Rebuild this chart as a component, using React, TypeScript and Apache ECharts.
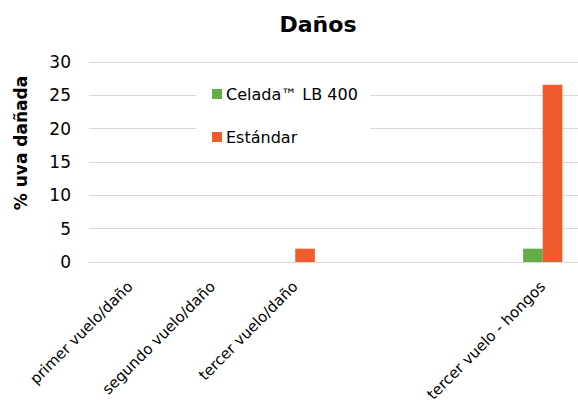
import React, { useEffect, useRef } from "react";
import * as echarts from "echarts";

const categories = [
  "primer vuelo/daño",
  "segundo vuelo/daño",
  "tercer vuelo/daño",
  "",
  "",
  "tercer vuelo - hongos",
];
const celada = [0, 0, 0, null, null, 2];
const estandar = [0, 0, 2, null, null, 26.6];
const seriesNames = ["Celada™ LB 400", "Estándar"];
const yTicks = { min: 0, max: 30, interval: 5 };

const FONT = "Tahoma, 'DejaVu Sans', sans-serif";

export default function App() {
  const ref = useRef<HTMLDivElement>(null);
  useEffect(() => {
    document.body.style.margin = "0";
    const chart = echarts.init(ref.current!, null, { renderer: "svg" });
    chart.setOption({
      animation: false,
      backgroundColor: "#ffffff",
      textStyle: { fontFamily: FONT },
      title: {
        text: "Daños",
        left: 313,
        top: 8,
        textAlign: "center",
        textStyle: { fontFamily: FONT, fontSize: 22, fontWeight: "bold", color: "#000" },
      },
      grid: { left: 89, right: 0, top: 62, bottom: 146, containLabel: false },
      legend: {
        orient: "vertical",
        left: 212,
        top: 84,
        padding: 0,
        itemWidth: 10,
        itemHeight: 10,
        itemGap: 23,
        icon: "rect",
        z: 5,
        textStyle: { fontFamily: FONT, fontSize: 16, color: "#000", lineHeight: 20, padding: [0, 0, 0, -1] },
        data: seriesNames,
      },
      graphic: [
        {
          type: "rect",
          z: 1,
          shape: { x: 196, y: 64, width: 174, height: 96 },
          style: { fill: "#ffffff" },
        },
        {
          type: "text",
          x: 21,
          y: 143,
          rotation: Math.PI / 2,
          style: {
            text: "% uva dañada",
            font: `bold 17px ${FONT}`,
            fill: "#000",
            align: "center",
            verticalAlign: "middle",
          },
        },
      ],
      xAxis: {
        type: "category",
        data: categories,
        axisTick: { show: false },
        axisLine: { lineStyle: { color: "#D9D9D9", width: 1 } },
        axisLabel: {
          rotate: 45,
          interval: 0,
          margin: 22,
          fontFamily: FONT,
          fontSize: 15,
          color: "#000",
        },
      },
      yAxis: {
        type: "value",
        min: yTicks.min,
        max: yTicks.max,
        interval: yTicks.interval,
        axisLine: { show: false },
        axisTick: { show: false },
        splitLine: { lineStyle: { color: "#D9D9D9", width: 1 } },
        axisLabel: { margin: 18, fontFamily: FONT, fontSize: 17, color: "#000" },
      },
      series: [
        {
          name: seriesNames[0],
          type: "bar",
          data: celada,
          barWidth: 19.6,
          barGap: "0%",
          itemStyle: { color: "#62AD46" },
        },
        {
          name: seriesNames[1],
          type: "bar",
          data: estandar,
          barWidth: 19.6,
          barGap: "0%",
          itemStyle: { color: "#F15A2A" },
        },
      ],
    });
    return () => chart.dispose();
  }, []);
  return (
    <div style={{ width: 578, height: 408, overflow: "hidden" }}>
      <div ref={ref} style={{ width: 584, height: 408 }} />
    </div>
  );
}
